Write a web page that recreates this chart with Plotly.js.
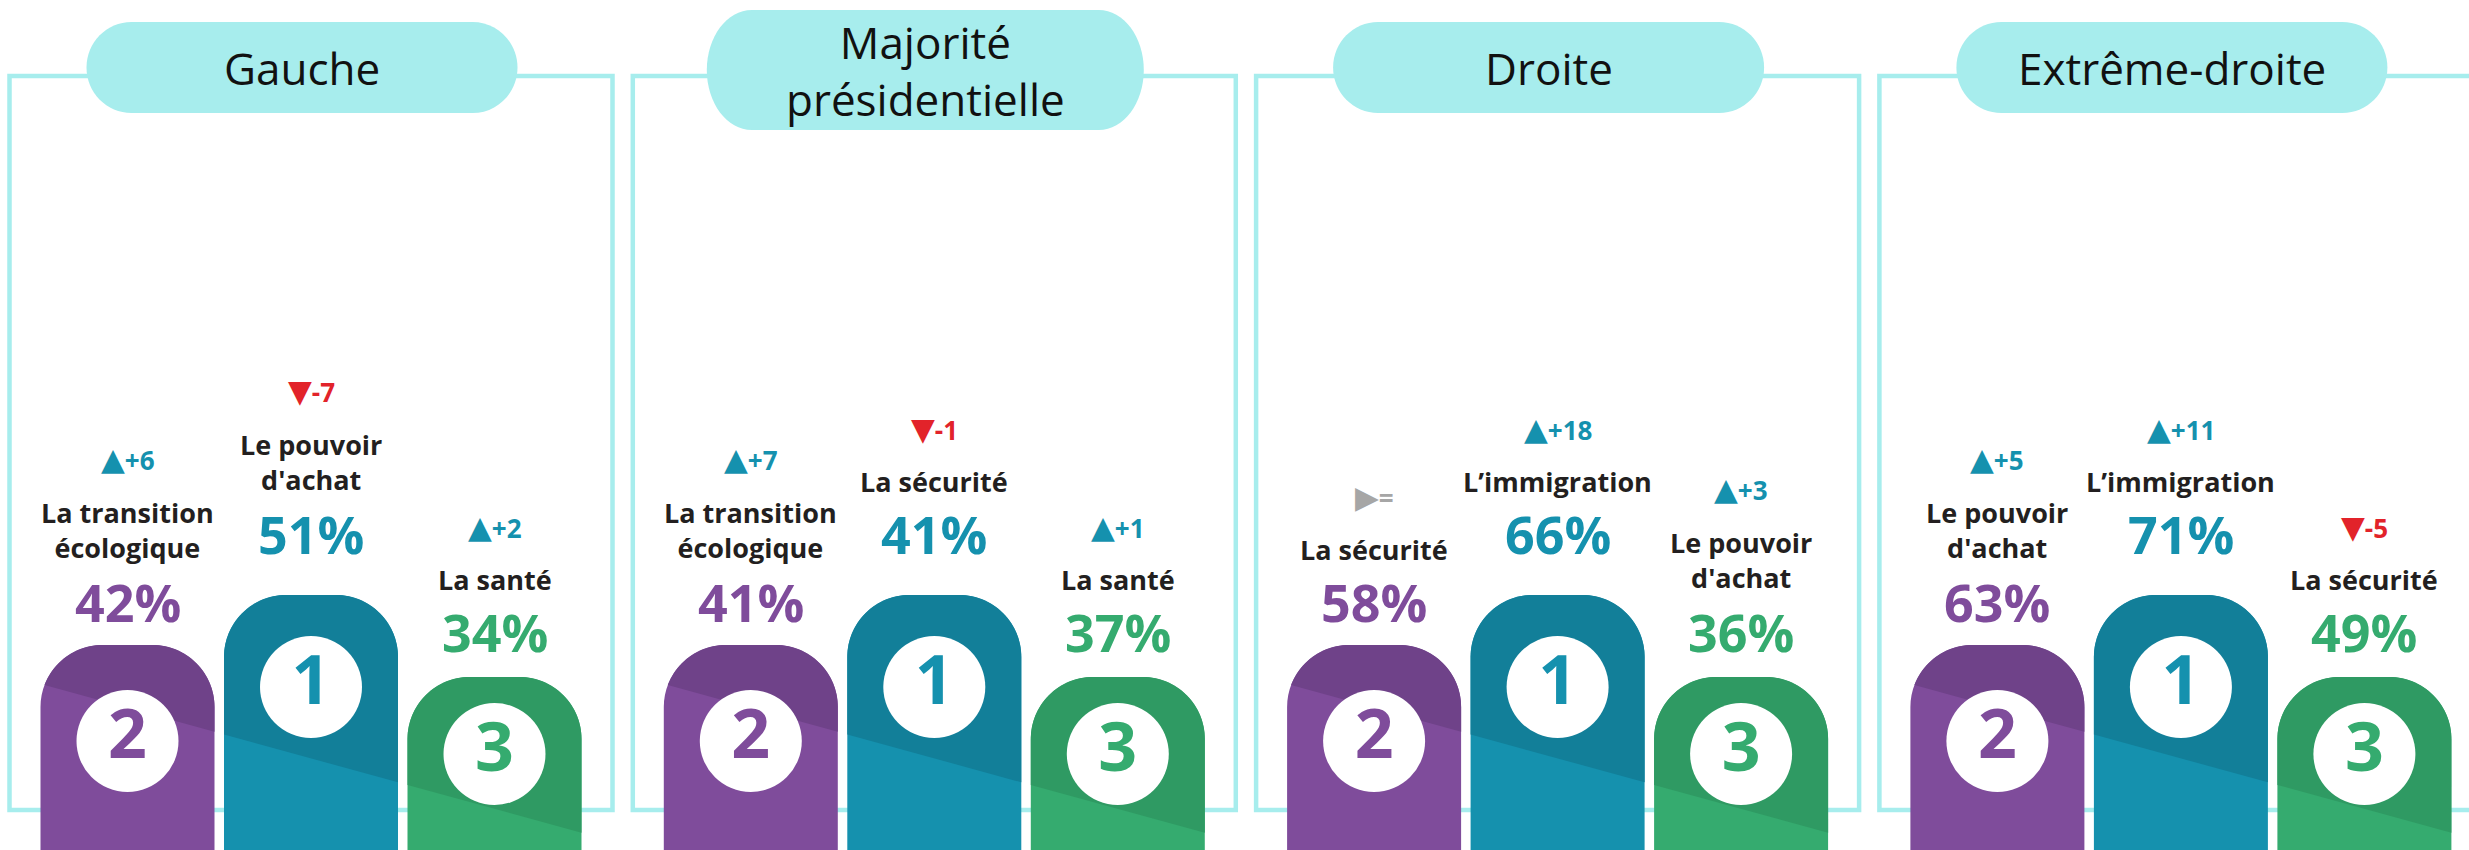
<!DOCTYPE html>
<html>
<head>
<meta charset="utf-8">
<script src="https://cdn.plot.ly/plotly-3.0.1.min.js"></script>
<style>
  html, body { margin: 0; padding: 0; background: #ffffff; overflow: hidden; }
  #chart { width: 2469px; height: 850px; }
</style>
</head>
<body>
<div id="chart"></div>
<script>
// ---------------- DATA ----------------
const groups = ["Gauche", "Majorité<br>présidentielle", "Droite", "Extrême-droite"];

// rank 1 (centre of the podium)
const rank1Issue = ["Le pouvoir<br>d'achat", "La sécurité", "L’immigration", "L’immigration"];
const rank1Pct   = [51, 41, 66, 71];
const rank1Delta = [-7, -1, 18, 11];

// rank 2 (left of the podium)
const rank2Issue = ["La transition<br>écologique", "La transition<br>écologique", "La sécurité", "Le pouvoir<br>d'achat"];
const rank2Pct   = [42, 41, 58, 63];
const rank2Delta = [6, 7, 0, 5];

// rank 3 (right of the podium)
const rank3Issue = ["La santé", "La santé", "Le pouvoir<br>d'achat", "La sécurité"];
const rank3Pct   = [34, 37, 36, 49];
const rank3Delta = [2, 1, 3, -5];

const ranks = [1, 2, 3];
const rankLabels = ["1", "2", "3"];

// ---------------- STYLE / LAYOUT ----------------
const W = 2469, H = 850;
const FONT = "'Open Sans', 'Noto Sans', sans-serif";
const CYAN = "#a7eded";
const LABEL_COLOR = "#231f20";
const UP_COLOR = "#1591ae", DOWN_COLOR = "#e2232a", EQ_COLOR = "#a6a6a6";
const RANK_STYLE = {
  1: { light: "#1591ae", dark: "#127f99", slot: 1, level: 255, circleDrop: 92, pctGap: 62 },
  2: { light: "#7f4c9b", dark: "#6f4289", slot: 0, level: 205, circleDrop: 96, pctGap: 44 },
  3: { light: "#35ab6f", dark: "#2f9a63", slot: 2, level: 173, circleDrop: 77, pctGap: 46 }
};
const PANEL_X0 = 9.5, PANEL_PITCH = 623.3, PANEL_W = 603;
const FRAME_TOP = H - 76, FRAME_BOTTOM = H - 810;
const SLOT_CENTER = [118, 301.5, 485];
const BAR_W = 174, CORNER_R = 62;
const DIAG_X0 = 31, DIAG_Y0 = H - 684, DIAG_SLOPE = 0.275;
const LINE_GAP = 37.5, BLOCK_GAP = 52;

const rankData = {
  1: { issue: rank1Issue, pct: rank1Pct, delta: rank1Delta },
  2: { issue: rank2Issue, pct: rank2Pct, delta: rank2Delta },
  3: { issue: rank3Issue, pct: rank3Pct, delta: rank3Delta }
};

function panelLeft(p) { return PANEL_X0 + p * PANEL_PITCH; }
function barCenter(p, r) { return panelLeft(p) + SLOT_CENTER[RANK_STYLE[r].slot]; }
function diagY(p, x) { return DIAG_Y0 - DIAG_SLOPE * (x - (panelLeft(p) + DIAG_X0)); }

// outline of a rounded-top bar (data units = pixels)
function barOutline(cx, top) {
  const L = cx - BAR_W / 2, R = cx + BAR_W / 2, r = CORNER_R;
  const pts = [[L, 0], [L, top - r]];
  const n = 30;
  for (let i = 1; i <= n; i++) {
    const a = Math.PI - (Math.PI / 2) * i / n;
    pts.push([L + r + r * Math.cos(a), top - r + r * Math.sin(a)]);
  }
  for (let i = 0; i <= n; i++) {
    const a = Math.PI / 2 - (Math.PI / 2) * i / n;
    pts.push([R - r + r * Math.cos(a), top - r + r * Math.sin(a)]);
  }
  pts.push([R, 0]);
  return pts;
}
// keep the part of a polygon lying above the diagonal
function clipAbove(poly, f) {
  const out = [];
  const g = pt => f(pt[0]) - pt[1];
  for (let i = 0; i < poly.length; i++) {
    const cur = poly[i], prev = poly[(i - 1 + poly.length) % poly.length];
    const ci = g(cur) <= 0, pi = g(prev) <= 0;
    const cross = () => {
      const t = g(prev) / (g(prev) - g(cur));
      return [prev[0] + t * (cur[0] - prev[0]), prev[1] + t * (cur[1] - prev[1])];
    };
    if (ci) { if (!pi) out.push(cross()); out.push(cur); }
    else if (pi) out.push(cross());
  }
  out.push(out[0]);
  return out;
}

const traces = [];
// podium bars (light body)
ranks.forEach(r => {
  traces.push({
    type: "bar",
    x: groups.map((g, p) => barCenter(p, r)),
    y: groups.map(() => RANK_STYLE[r].level),
    width: BAR_W,
    marker: { color: RANK_STYLE[r].light, cornerradius: CORNER_R, line: { width: 0 } },
    hoverinfo: "skip",
    showlegend: false
  });
});
// darker upper part of each bar
ranks.forEach(r => {
  groups.forEach((g, p) => {
    const cx = barCenter(p, r);
    const poly = clipAbove(barOutline(cx, RANK_STYLE[r].level), x => diagY(p, x));
    traces.push({
      type: "scatter", mode: "lines", fill: "toself",
      x: poly.map(q => q[0]), y: poly.map(q => q[1]),
      fillcolor: RANK_STYLE[r].dark,
      line: { width: 0, color: RANK_STYLE[r].dark, simplify: false },
      hoverinfo: "skip", showlegend: false
    });
  });
});
// rank medallions
ranks.forEach(r => {
  traces.push({
    type: "scatter", mode: "markers+text",
    x: groups.map((g, p) => barCenter(p, r)),
    y: groups.map(() => RANK_STYLE[r].level - RANK_STYLE[r].circleDrop),
    text: groups.map(() => rankLabels[r - 1]),
    textposition: "middle center",
    textfont: { family: FONT, size: 68, color: RANK_STYLE[r].light, weight: 700 },
    marker: { size: 102, color: "#ffffff", line: { width: 0 } },
    hoverinfo: "skip", showlegend: false
  });
});

const shapes = [];
const annotations = [];

groups.forEach((g, p) => {
  const fl = panelLeft(p);
  shapes.push({
    type: "rect", xref: "x", yref: "y", layer: "below",
    x0: fl, x1: fl + PANEL_W, y0: FRAME_BOTTOM, y1: FRAME_TOP,
    line: { color: CYAN, width: 4.5 }, fillcolor: "rgba(0,0,0,0)"
  });
});
groups.forEach((g, p) => {
  const twoLines = g.indexOf("<br>") >= 0;
  const w = twoLines ? 437 : 431, h = twoLines ? 120 : 91;
  const cx = panelLeft(p) + PANEL_W / 2 - 9;
  const cy = H - (twoLines ? 70 : 67.5);
  const rx = 45, ry = h / 2, k = 0.5523;
  const x0 = cx - w / 2, x1 = cx + w / 2, yt = cy + ry, yb = cy - ry;
  const path = `M ${x0 + rx} ${yt} L ${x1 - rx} ${yt} ` +
    `C ${x1 - rx + k * rx} ${yt} ${x1} ${cy + k * ry} ${x1} ${cy} ` +
    `C ${x1} ${cy - k * ry} ${x1 - rx + k * rx} ${yb} ${x1 - rx} ${yb} ` +
    `L ${x0 + rx} ${yb} ` +
    `C ${x0 + rx - k * rx} ${yb} ${x0} ${cy - k * ry} ${x0} ${cy} ` +
    `C ${x0} ${cy + k * ry} ${x0 + rx - k * rx} ${yt} ${x0 + rx} ${yt} Z`;
  shapes.push({ type: "path", xref: "x", yref: "y", layer: "below", path: path,
    fillcolor: CYAN, line: { width: 0 } });
  annotations.push({
    x: cx, y: cy, xref: "x", yref: "y", text: g, showarrow: false,
    xanchor: "center", yanchor: "middle", align: "center",
    font: { family: FONT, size: 44, color: "#111111" }
  });
});

function deltaText(d) {
  const tri = s => `<span style="font-family:'DejaVu Sans';font-size:31px">${s}</span>`;
  if (d > 0) return { text: tri("▲") + "+" + d, color: UP_COLOR };
  if (d < 0) return { text: tri("▼") + "-" + Math.abs(d), color: DOWN_COLOR };
  return { text: tri("▶") + "=", color: EQ_COLOR };
}

ranks.forEach(r => {
  const st = RANK_STYLE[r], dd = rankData[r];
  groups.forEach((g, p) => {
    const cx = barCenter(p, r);
    const top = st.level;
    const nLines = dd.issue[p].split("<br>").length;
    // percentage
    annotations.push({
      x: cx, y: top, xref: "x", yref: "y", yshift: st.pctGap,
      text: dd.pct[p] + "%", showarrow: false, xanchor: "center", yanchor: "middle",
      font: { family: FONT, size: 52, color: st.light, weight: 700 }
    });
    // issue label
    annotations.push({
      x: cx, y: top, xref: "x", yref: "y",
      yshift: st.pctGap + BLOCK_GAP + (nLines - 1) * LINE_GAP / 2,
      text: dd.issue[p], showarrow: false, xanchor: "center", yanchor: "middle", align: "center",
      font: { family: FONT, size: 27, color: LABEL_COLOR, weight: 700 }
    });
    // evolution
    const dt = deltaText(dd.delta[p]);
    annotations.push({
      x: cx, y: top, xref: "x", yref: "y",
      yshift: st.pctGap + BLOCK_GAP + (nLines - 1) * LINE_GAP + BLOCK_GAP,
      text: dt.text, showarrow: false, xanchor: "center", yanchor: "middle",
      font: { family: FONT, size: 26, color: dt.color, weight: 700 }
    });
  });
});

const layout = {
  width: W, height: H, autosize: false,
  margin: { l: 0, r: 0, t: 0, b: 0, pad: 0 },
  paper_bgcolor: "#ffffff", plot_bgcolor: "#ffffff",
  xaxis: { range: [0, W], visible: false, fixedrange: true },
  yaxis: { range: [0, H], visible: false, fixedrange: true },
  barmode: "overlay",
  shapes: shapes,
  annotations: annotations,
  showlegend: false
};

Plotly.newPlot("chart", traces, layout, { staticPlot: true, displayModeBar: false });
</script>
</body>
</html>
